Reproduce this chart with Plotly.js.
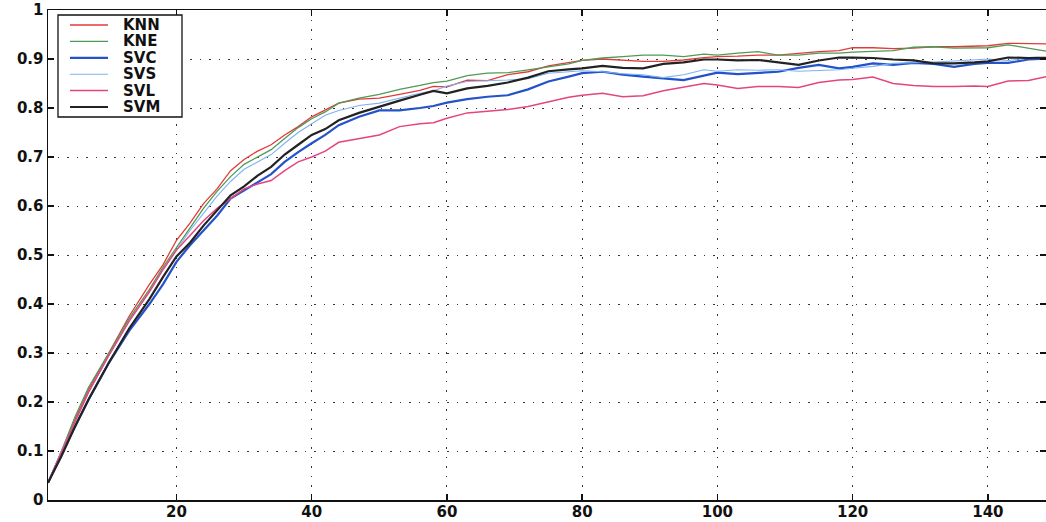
<!DOCTYPE html>
<html>
<head>
<meta charset="utf-8">
<script src="https://cdn.plot.ly/plotly-3.0.1.min.js"></script>
<style>
  html, body { margin: 0; padding: 0; background: #fff; }
  #chart { width: 1046px; height: 522px; }
</style>
</head>
<body>
<div id="chart"></div>
<script>
// Shared x positions (number of training samples)
const xVals = [1,3,5,7,10,13,16,18,20,22,24,26,28,30,32,34,36,38,40,42,44,47,50,53,56,58,60,63,66,69,72,75,78,80,83,86,89,92,95,98,100,103,106,109,112,115,118,120,123,126,129,132,135,138,140,143,146,148.6,150];

const KNN = [0.035,0.10,0.165,0.225,0.30,0.375,0.44,0.48,0.53,0.565,0.605,0.635,0.672,0.695,0.712,0.725,0.745,0.762,0.782,0.796,0.81,0.818,0.82,0.828,0.836,0.844,0.843,0.857,0.856,0.868,0.874,0.886,0.892,0.897,0.90,0.898,0.895,0.895,0.898,0.903,0.905,0.906,0.908,0.908,0.912,0.915,0.917,0.923,0.923,0.921,0.922,0.925,0.925,0.927,0.927,0.932,0.931,0.931,0.932];

const KNE = [0.035,0.10,0.17,0.23,0.30,0.37,0.43,0.475,0.515,0.555,0.595,0.63,0.66,0.685,0.70,0.715,0.738,0.76,0.778,0.792,0.81,0.82,0.828,0.838,0.846,0.852,0.855,0.866,0.871,0.872,0.878,0.884,0.89,0.897,0.902,0.905,0.908,0.908,0.905,0.91,0.908,0.912,0.915,0.908,0.908,0.912,0.912,0.914,0.916,0.917,0.924,0.925,0.922,0.923,0.923,0.929,0.922,0.916,0.915];

const SVC = [0.035,0.095,0.15,0.205,0.28,0.345,0.40,0.44,0.486,0.52,0.55,0.58,0.615,0.632,0.648,0.665,0.69,0.71,0.728,0.745,0.765,0.782,0.795,0.795,0.80,0.804,0.811,0.818,0.823,0.826,0.838,0.854,0.864,0.871,0.874,0.868,0.864,0.86,0.857,0.866,0.872,0.869,0.872,0.874,0.882,0.888,0.881,0.884,0.891,0.888,0.892,0.89,0.884,0.89,0.892,0.892,0.899,0.901,0.902];

const SVS = [0.035,0.10,0.16,0.22,0.295,0.365,0.425,0.47,0.51,0.55,0.585,0.62,0.65,0.675,0.69,0.705,0.728,0.75,0.768,0.785,0.795,0.805,0.81,0.82,0.83,0.835,0.845,0.854,0.855,0.857,0.86,0.871,0.874,0.876,0.874,0.87,0.868,0.862,0.868,0.878,0.875,0.878,0.877,0.878,0.875,0.876,0.878,0.881,0.885,0.891,0.892,0.894,0.896,0.898,0.90,0.897,0.902,0.903,0.904];

const SVL = [0.035,0.098,0.16,0.22,0.295,0.365,0.425,0.47,0.51,0.54,0.57,0.595,0.615,0.635,0.645,0.652,0.672,0.69,0.70,0.712,0.73,0.738,0.745,0.762,0.768,0.77,0.779,0.79,0.793,0.797,0.803,0.813,0.822,0.826,0.83,0.823,0.825,0.835,0.842,0.85,0.847,0.84,0.844,0.844,0.842,0.852,0.857,0.858,0.863,0.85,0.846,0.844,0.844,0.845,0.844,0.855,0.856,0.864,0.866];

const SVM = [0.035,0.09,0.15,0.205,0.28,0.35,0.41,0.455,0.497,0.525,0.56,0.592,0.622,0.64,0.662,0.68,0.705,0.725,0.745,0.757,0.775,0.79,0.803,0.815,0.827,0.835,0.83,0.84,0.845,0.852,0.862,0.875,0.879,0.881,0.886,0.882,0.881,0.89,0.893,0.899,0.899,0.897,0.898,0.893,0.888,0.897,0.903,0.903,0.902,0.899,0.897,0.891,0.891,0.893,0.895,0.903,0.902,0.903,0.904];

const seriesNames = ['KNN','KNE','SVC','SVS','SVL','SVM'];
const seriesData = [KNN, KNE, SVC, SVS, SVL, SVM];
const seriesColors = ['#e23a3a','#4f9a55','#2352c9','#7fb2f2','#e5457e','#222222'];
const seriesWidths = [1.3, 1.3, 2.2, 1.1, 1.5, 2.2];

const xTicks = [20,40,60,80,100,120,140];
const yTicks = [0,0.1,0.2,0.3,0.4,0.5,0.6,0.7,0.8,0.9,1];
const yTickText = ['0','0.1','0.2','0.3','0.4','0.5','0.6','0.7','0.8','0.9','1'];

const traces = seriesNames.map((n, i) => ({
  x: xVals,
  y: seriesData[i],
  name: n,
  type: 'scatter',
  mode: 'lines',
  line: { color: seriesColors[i], width: seriesWidths[i] },
  showlegend: false
}));

// Legend drawn in paper coordinates (plot area: 48..1046 px wide, 10..500 px tall)
const W = 1046, H = 522, ML = 48, MT = 10, MB = 22;
const PW = W - ML, PH = H - MT - MB;
const px2x = p => (p - ML) / PW;
const py2y = p => (H - MB - p) / PH;

const FONT = 'DejaVu Sans, Liberation Sans, Arial, sans-serif';

const shapes = [{
  type: 'rect', xref: 'paper', yref: 'paper',
  x0: px2x(58), x1: px2x(182), y0: py2y(117), y1: py2y(15),
  line: { color: '#111', width: 1.3 }, fillcolor: '#fff', layer: 'above'
}];
const annotations = [];
seriesNames.forEach((n, i) => {
  const rowY = 25 + i * 16.4;
  shapes.push({
    type: 'line', xref: 'paper', yref: 'paper',
    x0: px2x(70), x1: px2x(108), y0: py2y(rowY), y1: py2y(rowY),
    line: { color: seriesColors[i], width: seriesWidths[i] }, layer: 'above'
  });
  annotations.push({
    xref: 'paper', yref: 'paper', x: px2x(121), y: py2y(rowY),
    xanchor: 'left', yanchor: 'middle', showarrow: false, text: n,
    font: { family: FONT, size: 15, color: '#111', weight: 'bold' }
  });
});

const tickFont = { family: FONT, size: 15, color: '#111', weight: 'bold' };

const layout = {
  width: W,
  height: H,
  margin: { l: ML, r: 0, t: MT, b: MB, pad: 0 },
  paper_bgcolor: '#fff',
  plot_bgcolor: '#fff',
  showlegend: false,
  shapes: shapes,
  annotations: annotations,
  xaxis: {
    range: [1, 148.6],
    tickvals: xTicks,
    ticktext: xTicks.map(String),
    ticks: 'inside', ticklen: 6, tickwidth: 1.5, tickcolor: '#111',
    showline: true, linecolor: '#111', linewidth: 1.5, mirror: 'ticks',
    showgrid: true, gridcolor: '#333', gridwidth: 1, griddash: '1.5px,8px',
    zeroline: false,
    ticklabelstandoff: -3,
    tickfont: tickFont
  },
  yaxis: {
    range: [0, 1],
    tickvals: yTicks,
    ticktext: yTickText,
    ticks: 'inside', ticklen: 6, tickwidth: 1.5, tickcolor: '#111',
    showline: true, linecolor: '#111', linewidth: 1.5, mirror: 'ticks',
    showgrid: true, gridcolor: '#333', gridwidth: 1, griddash: '1.5px,8px',
    zeroline: false,
    tickfont: tickFont
  }
};

Plotly.newPlot('chart', traces, layout, { staticPlot: true, displayModeBar: false });
</script>
</body>
</html>
